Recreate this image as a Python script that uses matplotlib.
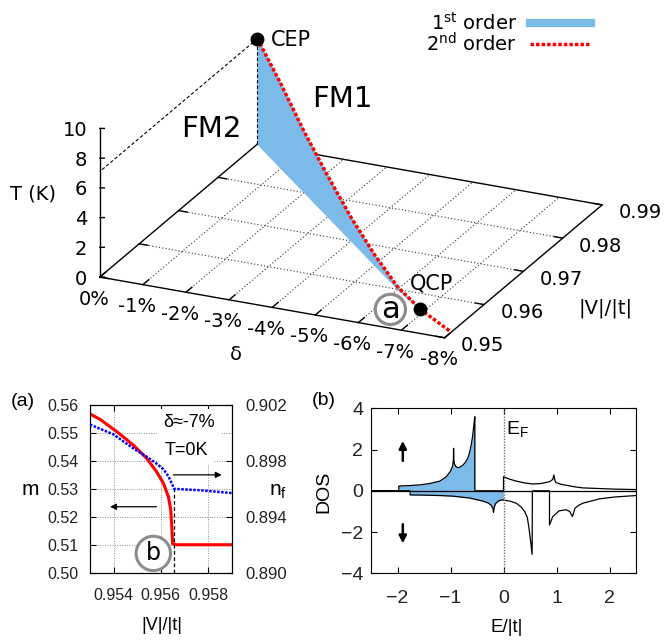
"""FM1/FM2 phase diagram with the m, n_f cut (a) and the DOS at point b.

Top: T-delta-|V|/|t| diagram, first-order sheet (blue) ending on the
second-order line (red) between the CEP and the QCP.
(a) magnetisation m and f occupation n_f along delta ~ -7 %, T = 0.
(b) spin resolved DOS at point b.
"""
import matplotlib
matplotlib.use("Agg")
import matplotlib.pyplot as plt
import numpy as np
from matplotlib.lines import Line2D
from matplotlib.ticker import FormatStrFormatter
from matplotlib.transforms import ScaledTranslation
from mpl_toolkits.mplot3d.art3d import Poly3DCollection

# ---------------------------------------------------------------- data
# phase diagram, x = |V|/|t|, y = delta (%), z = T (K)
delta_line = [0, -1, -2, -3, -4, -5, -6, -6.89, -8]
v_line = [0.99, 0.985, 0.980, 0.975, 0.970, 0.965, 0.960, 0.956, 0.9517]
t_line = [7.1, 5.7, 4.1, 2.77, 1.59, 0.72, 0.15, 0.0, 0.0]
n_first = 8            # the first-order sheet stops at the QCP
cep = (0.99, 0.0, 7.1)
qcp = (0.956, -6.89, 0.0)
delta_ticks = [0, -1, -2, -3, -4, -5, -6, -7, -8]
v_ticks = [0.95, 0.96, 0.97, 0.98, 0.99]
t_ticks = [0, 2, 4, 6, 8, 10]

# (a) delta ~ -7 %, T = 0
v_m = [0.953, 0.95342, 0.95413, 0.95483, 0.9554, 0.95582, 0.95611,
       0.95632, 0.95642, 0.95647, 0.9565, 0.95667, 0.959]
m_vals = [0.5568, 0.5549, 0.5505, 0.5457, 0.5409, 0.5361, 0.5320,
          0.5272, 0.5224, 0.5153, 0.5103, 0.5100, 0.5100]
v_nf = [0.953, 0.95399, 0.95483, 0.9554, 0.95582, 0.95611, 0.95632,
        0.95646, 0.95656, 0.95766, 0.959]
nf_vals = [0.9006, 0.8999, 0.8989, 0.8983, 0.8978, 0.8974, 0.8969,
           0.8964, 0.8960, 0.8959, 0.8957]
i_kink = 8
m_ticks = [0.50, 0.51, 0.52, 0.53, 0.54, 0.55, 0.56]
nf_ticks = [0.890, 0.894, 0.898, 0.902]
va_ticks = [0.954, 0.956, 0.958]

# (b) DOS, spin up (>0) and spin down (<0)
e_up = [-2.5, -1.975, -1.975, -1.8, -1.6, -1.4, -1.2, -1.08, -1.0, -0.96,
        -0.945, -0.942, -0.938, -0.925, -0.9, -0.862, -0.82, -0.767, -0.72,
        -0.673, -0.64, -0.61, -0.585, -0.566, -0.552, -0.541, -0.541, 0.0,
        0.0, 0.12, 0.24, 0.4, 0.554, 0.7, 0.868, 0.93, 0.95, 0.97, 0.99,
        1.08, 1.18, 1.35, 1.5, 1.81, 2.1, 2.5]
dos_up = [0, 0, 0.23, 0.25, 0.28, 0.35, 0.47, 0.68, 0.95, 1.2,
          1.5, 2.06, 1.5, 1.3, 1.18, 1.12, 1.15, 1.24, 1.38,
          1.58, 1.85, 2.22, 2.6, 3.03, 3.35, 3.59, 0, 0,
          0.68, 0.56, 0.47, 0.38, 0.33, 0.35, 0.44, 0.55, 0.77, 0.5, 0.40,
          0.32, 0.27, 0.19, 0.14, 0.11, 0.08, 0.06]
e_dn = [-2.5, -1.761, -1.761, -1.5, -1.2, -0.955, -0.64, -0.39, -0.3, -0.24,
        -0.2, -0.189, -0.175, -0.15, -0.1, -0.04, 0.0, 0.12, 0.24, 0.33,
        0.40, 0.45, 0.48, 0.51, 0.54, 0.545, 0.868, 0.868, 0.93, 1.05,
        1.18, 1.25, 1.3, 1.35, 1.42, 1.5, 1.81, 2.1, 2.5]
dos_dn = [0, 0, -0.2, -0.21, -0.23, -0.26, -0.35, -0.5, -0.58, -0.68,
          -0.85, -1.04, -0.8, -0.62, -0.5, -0.44, -0.45, -0.5, -0.6, -0.78,
          -1.0, -1.3, -1.8, -2.4, -3.08, 0, 0, -1.66, -1.25, -0.97,
          -0.92, -1.0, -1.25, -0.84, -0.7, -0.6, -0.39, -0.3, -0.23]
e_ticks = [-2, -1, 0, 1, 2]
dos_ticks = [-4, -2, 0, 2, 4]

# ---------------------------------------------------------------- style
W, H = 664, 640
BLUE = "#7cbbe9"
GREY = "#8c8c8c"
RED_DOTS = (0, (1, 0.6))
plt.rcParams["font.family"] = "DejaVu Sans"

fig = plt.figure(figsize=(W / 100, H / 100), dpi=100)

# ---------------------------------------------------------------- 3D panel
ax3 = fig.add_axes([0.05, 0.38, 0.9, 0.62], projection="3d",
                   computed_zorder=False)
ax3.set_proj_type("ortho")
ax3.view_init(elev=22.67, azim=-155.44)
ax3.set_box_aspect((379, 379, 161))
ax3.set_axis_off()
ax3.set_facecolor("none")

v0, v1 = v_ticks[0], v_ticks[-1]
d0, d1 = delta_ticks[0], delta_ticks[-1]
labels3d = []   # (x, y, z, text, dx, dy, kwargs), placed once the view is fixed


def line3(xs, ys, zs, **kw):
    ax3.plot(xs, ys, zs, clip_on=False, **kw)


def text3(x, y, z, s, dx=0.0, dy=0.0, **kw):
    kw.setdefault("fontsize", 14)
    kw.setdefault("zorder", 5)
    labels3d.append((x, y, z, s, dx, dy, kw))


grid_kw = dict(color="0.2", lw=0.8, ls=(0, (1, 2)), zorder=1)
for d in delta_ticks[1:-1]:
    line3([v0, v1], [d, d], [0, 0], **grid_kw)
for v in v_ticks[1:-1]:
    line3([v, v], [d0, d1], [0, 0], **grid_kw)

frame_kw = dict(color="k", lw=1.0, zorder=1.5)
line3([v0, v0, v1, v1, v0], [d0, d1, d1, d0, d0], [0, 0, 0, 0, 0], **frame_kw)
line3([v0, v0], [d0, d0], [t_ticks[0], t_ticks[-1]], **frame_kw)
for d in delta_ticks:
    line3([v0, v0 + 0.0015], [d, d], [0, 0], **frame_kw)
for v in v_ticks:
    line3([v, v], [d0, d0 - 0.2], [0, 0], **frame_kw)
    line3([v, v], [d1, d1 + 0.2], [0, 0], **frame_kw)
for t in t_ticks:
    line3([v0, v0 + 0.0002], [d0, d0 - 0.086], [t, t], **frame_kw)

# first-order sheet between the floor and the critical line
floor = [(v, d, 0.0) for v, d in zip(v_line[:n_first], delta_line[:n_first])]
top = [(v, d, t) for v, d, t in
       zip(v_line[:n_first], delta_line[:n_first], t_line[:n_first])]
sheet = Poly3DCollection([floor + top[::-1]], facecolor=BLUE,
                         edgecolor=BLUE, linewidth=0.6, zorder=2)
ax3.add_collection3d(sheet)

line3(v_line, delta_line, t_line, color="red", lw=2.5, ls=RED_DOTS, zorder=3)
dash_kw = dict(color="k", lw=0.8, ls=(0, (3, 2)), zorder=3)
line3([cep[0], cep[0]], [cep[1], cep[1]], [0, cep[2]], **dash_kw)
line3([cep[0], v0], [cep[1], d0], [cep[2], cep[2]], **dash_kw)
for p in (cep, qcp):
    line3([p[0]], [p[1]], [p[2]], marker="o", ms=9, color="k", ls="none",
          zorder=4)

text3(*cep, "CEP", dx=9.8, dy=0.6, ha="left", va="center_baseline",
      fontsize=15)
text3(*qcp, "QCP", dx=8.4, dy=20.2, ha="center", va="center_baseline",
      fontsize=15)
text3(*qcp, "a", dx=-21.6, dy=0, ha="center", va="center", fontsize=22,
      bbox=dict(boxstyle="circle,pad=0.02", fc="white", ec=GREY, lw=2.3))

for d in delta_ticks:
    text3(v0, d, 0, f"{d}%", dx=-4.3, dy=-14.4, ha="center",
          va="center_baseline")
for v in v_ticks:
    text3(v, d1, 0, f"{v:.2f}", dx=11.8, dy=-4.4, ha="left",
          va="center_baseline")
for t in t_ticks:
    text3(v0, d0, t, f"{t}", dx=-8.9, ha="right", va="center_baseline")
text3(v0, d0, (t_ticks[0] + t_ticks[-1]) / 2, "T (K)", dx=-47.9, dy=7.5,
      ha="center", va="center_baseline")
text3(v0, (d0 + d1) / 2, 0, "δ", dx=-26.1, dy=-32.8, ha="center",
      va="center_baseline")
text3((v0 + v1) / 2, d1, 0, "|V|/|t|", dx=59, dy=-25.3, ha="center",
      va="center_baseline")

ax3.set_xlim(v0, v1)
ax3.set_ylim(d1, d0)
ax3.set_zlim(t_ticks[0], t_ticks[-1])
# the box is drawn by hand, so the built-in 3D ticks are not needed
ax3.set_xticks([])
ax3.set_yticks([])
ax3.set_zticks([])

fig.text(211.7 / W, 1 - 125.8 / H, "FM2", fontsize=21, ha="center",
         va="center_baseline")
fig.text(342.5 / W, 1 - 96.2 / H, "FM1", fontsize=21, ha="center",
         va="center_baseline")

fig.legend(handles=[Line2D([], [], color=BLUE, lw=6),
                    Line2D([], [], color="red", lw=2.5, ls=RED_DOTS)],
           labels=[r"1$^\mathregular{st}$ order", r"2$^\mathregular{nd}$ order"],
           loc="upper right", bbox_to_anchor=(590.7 / W, 1 - 12 / H),
           frameon=False, markerfirst=False, fontsize=14, handlelength=3.12,
           handletextpad=0.68, labelspacing=-0.1, borderpad=0,
           borderaxespad=0)


def project(ax, x, y, z):
    """3D data point -> 2D projected coordinates of the 3D axes."""
    px, py, _, pw = ax.M @ np.array([x, y, z, 1.0])
    return px / pw, py / pw


def place_box(ax, anchors, targets_px):
    """Scale/shift the 3D axes so the box corners sit at the given pixels."""
    fig.canvas.draw()
    p = np.array([ax.transData.transform(project(ax, *a)) for a in anchors])
    t = np.array([(tx, H - ty) for tx, ty in targets_px])
    pm, tm = p.mean(0), t.mean(0)
    s = ((p - pm) * (t - tm)).sum() / ((p - pm) ** 2).sum()
    bb = ax.bbox
    c = np.array([(bb.x0 + bb.x1) / 2, (bb.y0 + bb.y1) / 2])
    nc = tm - s * (pm - c)
    w, h = bb.width * s, bb.height * s
    ax.set_position([(nc[0] - w / 2) / W, (nc[1] - h / 2) / H, w / W, h / H])


place_box(ax3,
          [(v0, d0, 0), (v0, d1, 0), (v1, d1, 0), (v1, d0, 0),
           (v0, d0, t_ticks[-1])],
          [(100.7, 276.0), (443.3, 339.3), (603.3, 204.0), (255.7, 145.7),
           (100.7, 127.3)])

# labels of the 3D panel, as flat text at the projected positions
for x, y, z, s, dx, dy, kw in labels3d:
    off = ScaledTranslation(dx / 72, dy / 72, fig.dpi_scale_trans)
    ax3.text2D(*project(ax3, x, y, z), s, transform=ax3.transData + off,
               **kw)

# ---------------------------------------------------------------- 2D panels
plt.rcParams["font.family"] = "Liberation Sans"
arrow_kw = dict(arrowstyle="-|>", color="k", lw=0.9, mutation_scale=9,
                shrinkA=0, shrinkB=0)

# (a)
axa = fig.add_axes([90 / W, 1 - 572.7 / H, 141.7 / W, 167.7 / H])
axa.plot(v_m, m_vals, color="red", lw=2.2, zorder=3)
axa.set_xlim(0.953, 0.959)
axa.set_ylim(m_ticks[0], m_ticks[-1])
axa.set_xticks(va_ticks)
axa.set_yticks(m_ticks)
axa.xaxis.set_major_formatter(FormatStrFormatter("%.3f"))
axa.yaxis.set_major_formatter(FormatStrFormatter("%.2f"))
axa.grid(True, color="0.55", lw=0.7, ls=(0, (1, 1.5)))
axa.tick_params(direction="in", length=4, labelcolor="#222", labelsize=11.5,
                top=True, right=False)
axa.tick_params(axis="y", pad=8.4)
axa.tick_params(axis="x", pad=11.2)
axa.set_xlabel("|V|/|t|", fontsize=13, va="center")
axa.xaxis.set_label_coords(0.506, -0.317)
axa.set_ylabel("m", fontsize=15, rotation=0, ha="center", va="baseline")
axa.yaxis.set_label_coords(-0.42, 0.463)
axa.text(0.9572, 0.5543, "δ≈-7%", fontsize=13, ha="center",
         va="center_baseline", bbox=dict(fc="white", ec="none", pad=4),
         zorder=4)
axa.text(0.95709, 0.5445, "T=0K", fontsize=13, ha="center",
         va="center_baseline", bbox=dict(fc="white", ec="none", pad=4),
         zorder=4)
axa.text(0.95568, 0.5069, "b", fontsize=17, family="DejaVu Sans",
         ha="center", va="center", zorder=5,
         bbox=dict(boxstyle="circle,pad=0.22", fc="white", ec=GREY, lw=2.2))
axa.annotate("", xy=(0.95385, 0.5236), xytext=(0.95582, 0.5236),
             arrowprops=arrow_kw)

axn = axa.twinx()
axn.plot(v_nf, nf_vals, color="blue", lw=1.8, ls=(0, (1, 0.6)), zorder=3)
axn.plot([v_nf[i_kink]] * 2, [nf_ticks[0], nf_vals[i_kink]], color="k",
         lw=0.9, ls=(0, (3, 2)))
axn.set_ylim(nf_ticks[0], nf_ticks[-1])
axn.set_yticks(nf_ticks)
axn.yaxis.set_major_formatter(FormatStrFormatter("%.3f"))
axn.tick_params(direction="in", length=4, labelcolor="#222", labelsize=12,
                pad=9.6)
axn.set_ylabel(r"n$_\mathregular{f}$", fontsize=15, rotation=0, ha="center",
               va="baseline")
axn.yaxis.set_label_coords(1.327, 0.463)
axn.annotate("", xy=(0.95858, 0.8970), xytext=(0.95653, 0.8970),
             arrowprops=arrow_kw)
fig.text(22.5 / W, 1 - 401.7 / H, "(a)", fontsize=14, ha="center",
         va="center")

# (b)
axb = fig.add_axes([371 / W, 1 - 573.3 / H, 265 / W, 165 / H])
axb.fill_between(e_up, dos_up, 0, where=np.array(e_up) <= 0, color=BLUE,
                 lw=0)
axb.fill_between(e_dn, dos_dn, 0, where=np.array(e_dn) <= 0, color=BLUE,
                 lw=0)
axb.axhline(0, color="k", lw=0.9)
axb.plot(e_up, dos_up, color="k", lw=0.9)
axb.plot(e_dn, dos_dn, color="k", lw=0.9)
axb.axvline(0, color="0.45", lw=1.0, ls=(0, (1, 1)))
axb.set_xlim(-2.5, 2.5)
axb.set_ylim(dos_ticks[0], dos_ticks[-1])
axb.set_xticks(e_ticks)
axb.set_yticks(dos_ticks)
axb.tick_params(direction="in", length=4, labelcolor="#222", labelsize=14,
                top=True, right=True)
axb.tick_params(axis="x", pad=12)
axb.tick_params(axis="y", pad=5.5)
axb.set_xlabel("E/|t|", fontsize=13.5, va="center")
axb.xaxis.set_label_coords(0.512, -0.327)
axb.set_ylabel("DOS", fontsize=14, va="center")
axb.yaxis.set_label_coords(-0.177, 0.491)
axb.text(0.05, 2.74, r"E$_\mathregular{F}$", fontsize=14, ha="left",
         va="baseline")
big_arrow = dict(arrow_kw, lw=1.8, mutation_scale=11)
axb.annotate("", xy=(-1.9, 2.42), xytext=(-1.9, 1.45), arrowprops=big_arrow)
axb.annotate("", xy=(-1.9, -2.55), xytext=(-1.9, -1.62), arrowprops=big_arrow)
fig.text(324 / W, 1 - 400.8 / H, "(b)", fontsize=14, ha="center",
         va="center")

fig.savefig("out.png", dpi=100)
